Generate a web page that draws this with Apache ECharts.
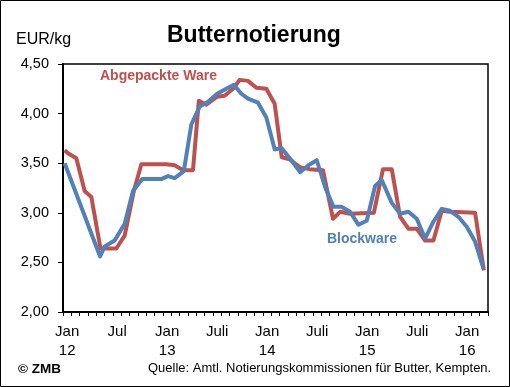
<!DOCTYPE html>
<html>
<head>
<meta charset="utf-8">
<script src="https://cdn.jsdelivr.net/npm/echarts@6/dist/echarts.min.js"></script>
<style>
html,body{margin:0;padding:0;background:#fff;}
#c{width:510px;height:387px;}
</style>
</head>
<body>
<div id="c"></div>
<script>
// Month index: 0 = Jan 2012 cell start, 51 = end of Mar 2016
const monthCategories = [];
for (let i = 0; i < 51; i++) monthCategories.push(String(i));
const tickLabels = {0: 'Jan\n12', 6: 'Jul', 12: 'Jan\n13', 18: 'Juli', 24: 'Jan\n14', 30: 'Juli', 36: 'Jan\n15', 42: 'Juli', 48: 'Jan\n16'};
const yTicks = [2.0, 2.5, 3.0, 3.5, 4.0, 4.5];

const abgepackteMonths = [0.2, 0.6, 1.6, 2.6, 3.4, 4.5, 6.4, 7.4, 8.5, 9.4, 12.4, 13.4, 14.4, 15.6, 16.3, 17.2, 18.5, 19.4, 20.4, 21.2, 22.2, 23.2, 24.4, 25.4, 26.25, 27.2, 28.4, 29.6, 31.2, 32.4, 33.25, 34.45, 37.3, 38.4, 39.45, 40.45, 41.45, 42.45, 43.45, 44.45, 45.45, 46.45, 49.45, 50.5];
const abgepackteValues = [3.63, 3.60, 3.55, 3.22, 3.16, 2.64, 2.64, 2.77, 3.22, 3.49, 3.49, 3.48, 3.43, 3.43, 4.13, 4.09, 4.17, 4.18, 4.25, 4.34, 4.33, 4.26, 4.25, 4.10, 3.56, 3.54, 3.46, 3.44, 3.43, 2.94, 3.01, 2.99, 3.00, 3.44, 3.44, 2.96, 2.84, 2.84, 2.72, 2.72, 3.02, 3.01, 3.00, 2.42];

const blockMonths = [0.2, 4.45, 5.0, 6.2, 7.4, 8.4, 9.5, 11.8, 12.6, 13.4, 14.5, 15.4, 16.4, 17.4, 18.5, 19.6, 20.5, 21.4, 22.2, 23.4, 24.4, 25.4, 26.25, 27.4, 28.45, 29.45, 30.45, 31.45, 32.45, 33.45, 34.45, 35.45, 36.45, 37.45, 38.25, 39.45, 40.45, 41.45, 42.45, 43.45, 44.45, 45.45, 46.45, 47.45, 48.45, 49.45, 50.45];
const blockValues = [3.50, 2.56, 2.66, 2.72, 2.89, 3.22, 3.34, 3.34, 3.37, 3.35, 3.42, 3.89, 4.07, 4.12, 4.20, 4.25, 4.29, 4.20, 4.15, 4.11, 3.96, 3.64, 3.65, 3.53, 3.41, 3.48, 3.53, 3.26, 3.06, 3.06, 3.01, 2.88, 2.92, 3.27, 3.33, 3.10, 2.99, 3.01, 2.94, 2.74, 2.91, 3.04, 3.02, 2.96, 2.86, 2.71, 2.44];

const FONT = 'Liberation Sans, Arial, sans-serif';
const RED = '#C0504D';
const BLUE = '#4F81BD';

function pairs(xs, ys) { return xs.map((x, i) => [x, ys[i]]); }

const chart = echarts.init(document.getElementById('c'), null, {renderer: 'canvas'});
chart.setOption({
  animation: false,
  backgroundColor: '#fff',
  grid: {left: 63, right: 22, top: 64, bottom: 75, show: true, borderColor: '#000', borderWidth: 1.5},
  xAxis: [
    {
      type: 'category', data: monthCategories, boundaryGap: true, position: 'bottom',
      axisLine: {show: true, lineStyle: {color: '#000', width: 2}},
      axisTick: {show: true, interval: 0, length: 4, inside: false, lineStyle: {color: '#000', width: 1}},
      axisLabel: {
        interval: 0, color: '#000', fontFamily: FONT, fontSize: 15, lineHeight: 19, margin: 10,
        formatter: (v, i) => tickLabels[i] || ''
      },
      splitLine: {show: false}
    },
    {
      type: 'value', min: 0, max: 51, show: false, position: 'bottom'
    }
  ],
  yAxis: {
    type: 'value', min: 2, max: 4.5, interval: 0.5,
    axisLine: {show: true, lineStyle: {color: '#000', width: 2}},
    axisTick: {show: true, length: 5, lineStyle: {color: '#000', width: 1}},
    axisLabel: {
      color: '#000', fontFamily: FONT, fontSize: 14.5, margin: 14,
      formatter: v => yTicks.indexOf(v) >= 0 ? v.toFixed(2).replace('.', ',') : ''
    },
    splitLine: {show: false}
  },
  series: [
    {
      name: 'Abgepackte Ware', type: 'line', xAxisIndex: 1, data: pairs(abgepackteMonths, abgepackteValues),
      showSymbol: false, lineStyle: {color: RED, width: 4, join: 'round'}, itemStyle: {color: RED}
    },
    {
      name: 'Blockware', type: 'line', xAxisIndex: 1, data: pairs(blockMonths, blockValues),
      showSymbol: false, lineStyle: {color: BLUE, width: 4, join: 'round'}, itemStyle: {color: BLUE}
    }
  ],
  graphic: [
    {type: 'rect', shape: {x: 0.5, y: 0.5, width: 509, height: 386}, style: {fill: 'none', stroke: '#000', lineWidth: 1}, silent: true},
    {type: 'text', left: 16, top: 32, style: {text: 'EUR/kg', font: '16px ' + FONT, fill: '#000'}},
    {type: 'text', left: 167, top: 24, style: {text: 'Butternotierung', font: 'bold 23px ' + FONT, fill: '#000'}},
    {type: 'text', left: 100, top: 69, style: {text: 'Abgepackte Ware', font: 'bold 14px ' + FONT, fill: RED}},
    {type: 'text', left: 327, top: 232, style: {text: 'Blockware', font: 'bold 14px ' + FONT, fill: BLUE}},
    {type: 'text', left: 18, top: 362, style: {text: '© ZMB', font: 'bold 13.5px ' + FONT, fill: '#000'}},
    {type: 'text', left: 148, top: 362, style: {text: 'Quelle: Amtl. Notierungskommissionen für Butter, Kempten.', font: '13px ' + FONT, fill: '#000'}}
  ]
});
</script>
</body>
</html>
